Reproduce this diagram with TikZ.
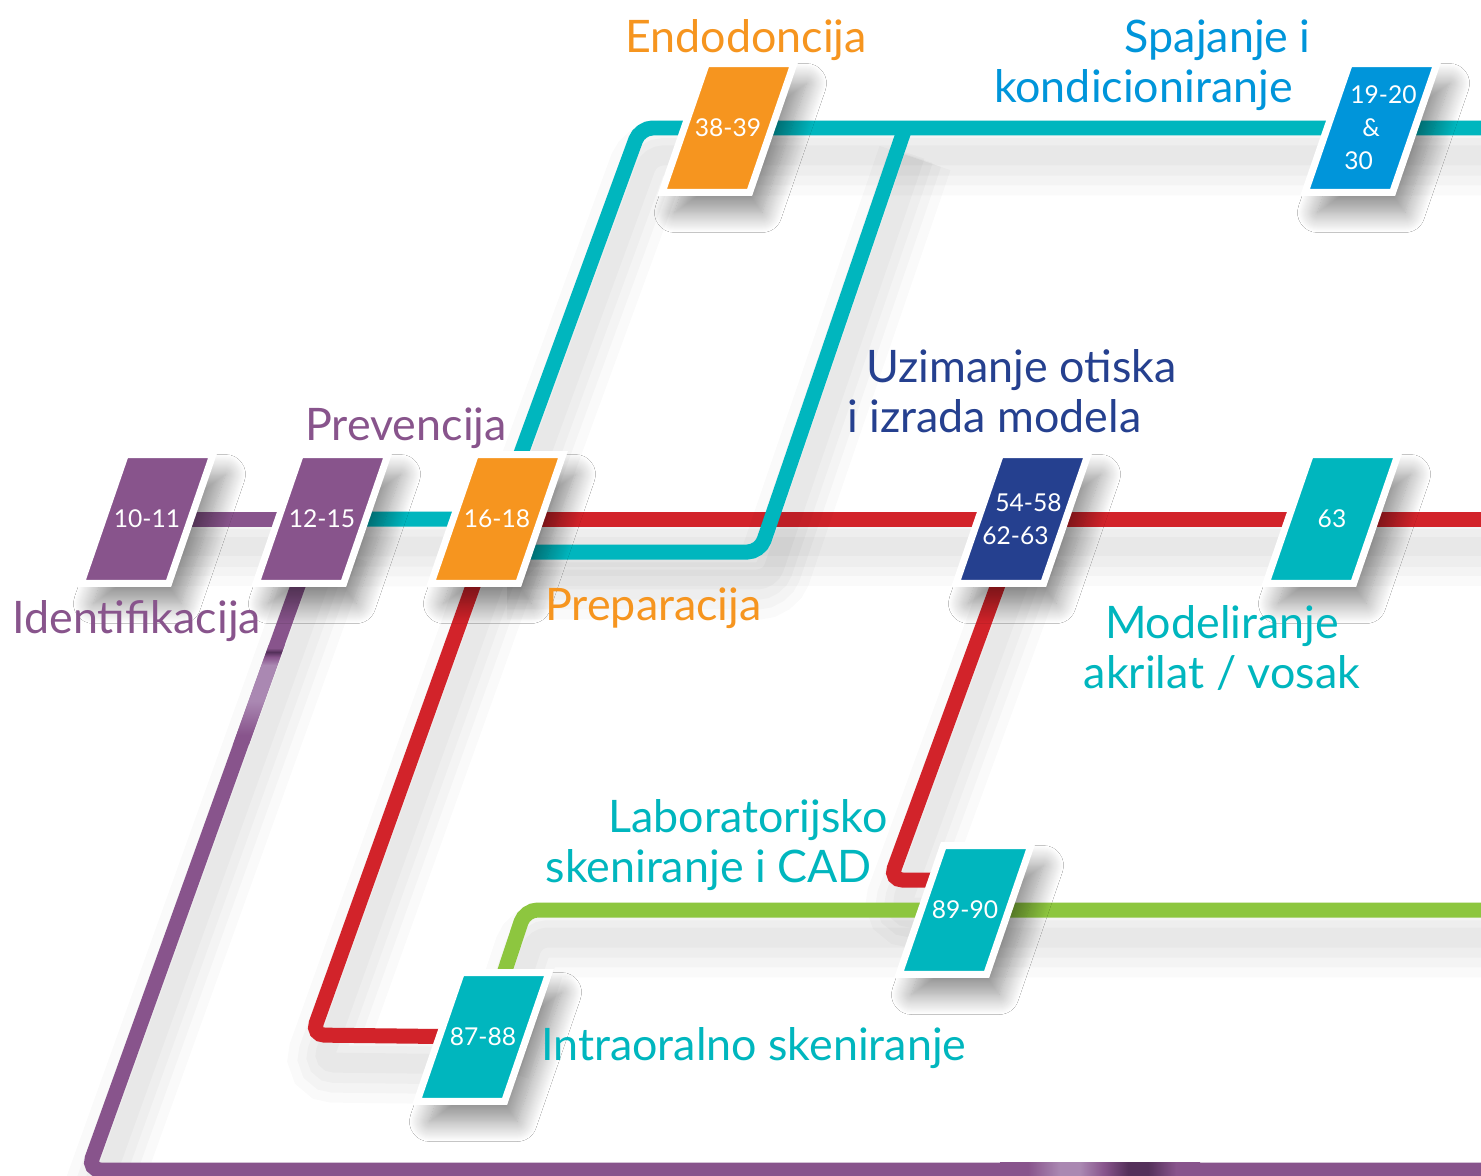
\documentclass[tikz,border=0pt]{standalone}
\usepackage{fontspec}
\setmainfont{Lato}
\usetikzlibrary{shapes.geometric,shadows.blur,backgrounds}

\definecolor{idpurple}{RGB}{136,84,140}
\definecolor{lightpurple}{RGB}{170,136,178}
\definecolor{darkpurple}{RGB}{84,48,90}
\definecolor{tealc}{RGB}{0,182,190}
\definecolor{orangec}{RGB}{246,149,31}
\definecolor{redc}{RGB}{210,35,42}
\definecolor{navyc}{RGB}{37,64,143}
\definecolor{skyc}{RGB}{0,149,218}
\definecolor{limec}{RGB}{141,198,63}

% glossy spots on the purple rail
\pgfdeclareverticalshading{glintdown}{100bp}{color(0bp)=(idpurple); color(30bp)=(idpurple);
  color(47bp)=(lightpurple); color(65bp)=(lightpurple); color(69bp)=(idpurple);
  color(71.5bp)=(darkpurple); color(73.5bp)=(idpurple); color(100bp)=(idpurple)}
\pgfdeclarehorizontalshading{glintright}{100bp}{color(0bp)=(idpurple); color(32bp)=(idpurple);
  color(40bp)=(lightpurple); color(45bp)=(lightpurple); color(51bp)=(idpurple);
  color(57bp)=(darkpurple); color(62bp)=(darkpurple); color(69bp)=(idpurple);
  color(100bp)=(idpurple)}

\tikzset{
  chap/.style={trapezium,trapezium left angle=71,trapezium right angle=109,
    trapezium stretches body=true,text height=2.58cm,text depth=0pt,
    inner sep=0pt,minimum width=2.64cm,fill=#1,draw=white,line width=0.14cm,
    blur shadow={shadow xshift=0.25cm,shadow yshift=-0.4cm,
      shadow blur radius=0.4cm,shadow blur steps=20,shadow opacity=45}},
  chaptext/.style={text=white,font=\fontsize{14}{18.8}\selectfont,
    align=center,inner sep=0pt},
  rail/.style={draw=#1,line width=0.3cm,rounded corners=0.25cm,
    preaction={draw=black,opacity=0.02,line width=1.5cm,
      transform canvas={xshift=0.2cm,yshift=-0.6cm}},
    preaction={draw=black,opacity=0.025,line width=1.1cm,
      transform canvas={xshift=0.2cm,yshift=-0.6cm}},
    preaction={draw=black,opacity=0.025,line width=0.75cm,
      transform canvas={xshift=0.2cm,yshift=-0.58cm}},
    preaction={draw=black,opacity=0.025,line width=0.4cm,
      transform canvas={xshift=0.2cm,yshift=-0.55cm}}},
  lbl/.style={text=#1,font=\fontsize{25.5}{28.5}\selectfont,inner sep=0pt},
}

\begin{document}
\begin{tikzpicture}[x=0.02cm,y=-0.02cm]
\clip (0,0) rectangle (1481,1176);

% chapters
\node (b1011) [chap=idpurple,label={[chaptext]center:10-11}] at (147,519) {};
\node (b1215) [chap=idpurple,label={[chaptext]center:12-15}] at (322,519) {};
\node (b1618) [chap=orangec,label={[chaptext]center:16-18}] at (497,519) {};
\node (b3839) [chap=orangec,label={[chaptext]center:38-39}] at (728,128) {};
\node (b1920) [chap=skyc,label={[chaptext]center:{\hspace*{0.5cm}19-20\\\&\\30\hspace*{0.5cm}}}] at (1371,128) {};
\node (b5458) [chap=navyc,label={[chaptext]center:{\hspace*{0.26cm}54-58\\62-63\hspace*{0.26cm}}}] at (1022,519) {};
\node (b63)   [chap=tealc,label={[chaptext]center:63}] at (1332,519) {};
\node (b8990) [chap=tealc,label={[chaptext]center:89-90}] at (965,910) {};
\node (b8788) [chap=tealc,label={[chaptext]center:87-88}] at (483,1037) {};
\coordinate (redkink) at (890,880);

% lines behind the chapters
\begin{pgfonlayer}{background}
\fill [white] (0,0) rectangle (1481,1176);
\draw [rail=idpurple] (b1011.center) -- (b1215.center);
\draw [rail=idpurple] (b1215.center) -- (88,1170) -- (1500,1170);
\shade [shading=glintdown] (268.7,645) -- (284.7,645) -- (248.8,745) -- (232.8,745) -- cycle;
\shade [shading=glintright] (1000,1162.5) rectangle (1200,1177.5);
\draw [rail=redc] (b1618.center) -- (b5458.center) -- (b63.center) -- (1500,519);
\draw [rail=redc] (b1618.center) -- (312,1035) -- (b8788.center);
\draw [rail=redc] (b5458.center) -- (redkink) -- (b8990.center |- redkink);
\draw [rail=limec] (b8788.center) -- (525,910) -- (b8990.center) -- (1500,910);
\draw [rail=tealc] (b1215.center) -- (b1618.center) -- (640,128) -- (b3839.center)
    -- (b1920.center) -- (1500,128);
\draw [rail=tealc] (b1618.center) ++(0,33) -- (760,552) -- (905,128);
\end{pgfonlayer}

% labels
\node (identlbl) [lbl=idpurple,anchor=base west] at (12,633) {Identifikacija};
\node (prevlbl) [lbl=idpurple,anchor=base west] at (305,440) {Prevencija};
\node (endolbl) [lbl=orangec,anchor=base west] at (625,53) {Endodoncija};
\node (preplbl) [lbl=orangec,anchor=base west] at (545,620) {Preparacija};
\node (spajlbl) [lbl=skyc,anchor=north east,align=right] at (1311,19)
    {Spajanje i\\kondicioniranje\hspace*{0.36cm}};
\node (uzimlbl) [lbl=navyc,anchor=north west,align=left] at (847,349)
    {\hspace*{0.38cm}Uzimanje otiska\\i izrada modela};
\node (modllbl) [lbl=tealc,anchor=north,align=center] at (1222,605)
    {Modeliranje\\akrilat / vosak};
\node (lablbl) [lbl=tealc,anchor=north east,align=right] at (888,799)
    {Laboratorijsko\\skeniranje i CAD\hspace*{0.32cm}};
\node (intrlbl) [lbl=tealc,anchor=base west] at (541,1060) {Intraoralno skeniranje};
\end{tikzpicture}
\end{document}
